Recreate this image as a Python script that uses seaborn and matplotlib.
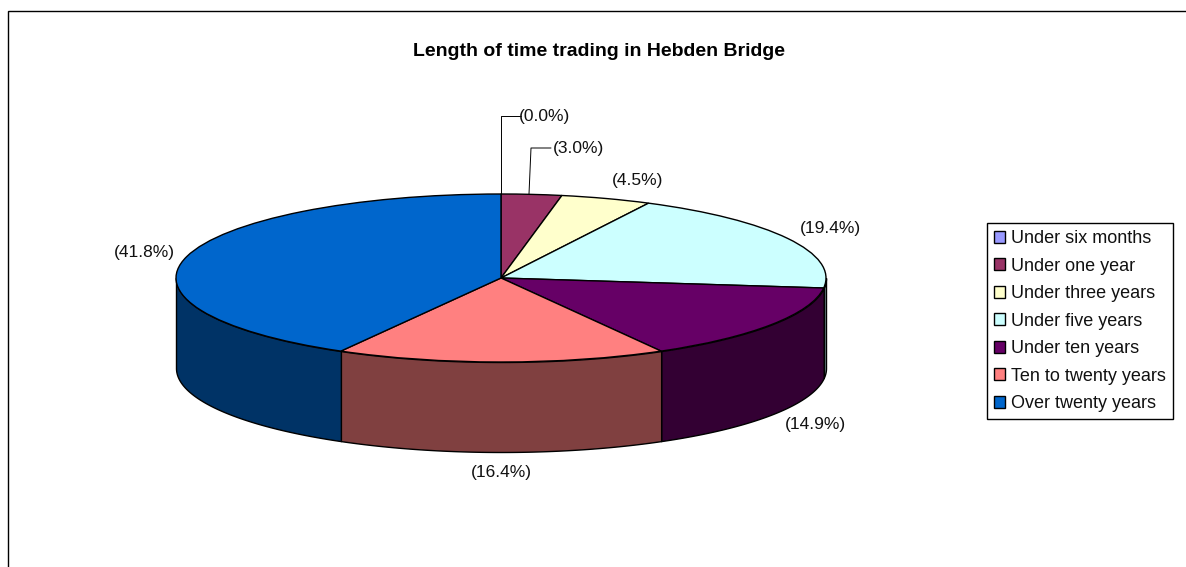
import numpy as np
import matplotlib
matplotlib.use("Agg")
import matplotlib.pyplot as plt
from matplotlib.patches import Rectangle
import seaborn as sns

# Chart data
categories = ["Under six months", "Under one year", "Under three years", "Under five years",
              "Under ten years", "Ten to twenty years", "Over twenty years"]
shares = [0.0, 3.0, 4.5, 19.4, 14.9, 16.4, 41.8]
top_colors = ["#9999FF", "#993366", "#FFFFCC", "#CCFFFF", "#660066", "#FF8080", "#0066CC"]
side_colors = ["#4D4D80", "#4D1A33", "#808066", "#668080", "#330033", "#804040", "#003366"]

W, H = 1186, 567
CX, CY = 501, 278      # pie centre, pixels
RX, RY = 325, 84       # ellipse radii, pixels
DEPTH = 90 / RY        # wall height in data units

sns.set_theme(style="white")
plt.rcParams["font.family"] = ["Liberation Sans", "DejaVu Sans"]


def px(x, y):
    # reference pixel position to data position
    return (x - CX) / RX, (CY - y) / RY


fig = plt.figure(figsize=(W / 100, H / 100), dpi=100)
ax = fig.add_axes([0, 0, 1, 1])

# Outer chart frame
fig.add_artist(Rectangle((7.5 / W, -0.05), (W + 20) / W, 1.05 - 10.5 / H, transform=fig.transFigure,
                         fill=False, edgecolor="black", linewidth=1.0))

# Side walls, only the front half of the disc shows
edges = np.cumsum([0] + shares) / sum(shares) * 360
for i, col in enumerate(side_colors):
    a0, a1 = max(edges[i], 90), min(edges[i + 1], 270)
    if a1 <= a0:
        continue
    a = np.radians(np.linspace(a0, a1, 200))
    ax.fill_between(np.sin(a), np.cos(a) - DEPTH, np.cos(a), facecolor=col, edgecolor="black",
                    linewidth=1.0, zorder=1)

# Top face
wedges, _ = ax.pie(shares, colors=sns.color_palette(top_colors), startangle=90, counterclock=False,
                   wedgeprops={"edgecolor": "black", "linewidth": 1.0, "zorder": 2})
ax.set_aspect("auto")
ax.set_xlim(*[px(v, 0)[0] for v in (0, W)])
ax.set_ylim(*[px(0, v)[1] for v in (H, 0)])
ax.axis("off")

# Data labels
label_pos = [(544, 116), (578, 148), (638, 181), (830, 229), (815, 425), (501, 472), (144, 253)]
for v, (lx, ly) in zip(shares, label_pos):
    ax.text(*px(lx, ly), f"({v:.1f}%)", ha="center", va="center", fontsize=12.5, color="#111111", zorder=5)

# Leader lines for the two thin slices
ax.plot(*zip(px(501, 194), px(501, 116), px(521, 116)), color="black", lw=0.7, zorder=4)
ax.plot(*zip(px(529, 194), px(531, 148), px(551, 148)), color="black", lw=0.7, zorder=4)

ax.text(*px(599, 52), "Length of time trading in Hebden Bridge", ha="center", va="center",
        fontsize=14, fontweight="bold", color="black")

leg = ax.legend(wedges, categories, loc="upper left", bbox_to_anchor=(987 / W, 1 - 223 / H),
                bbox_transform=fig.transFigure, frameon=True, fancybox=False, shadow=False,
                edgecolor="black", facecolor="white", framealpha=1, fontsize=13, labelspacing=0.58,
                handlelength=0.62, handleheight=0.62, handletextpad=0.3, borderpad=0.4, borderaxespad=0)
leg.get_frame().set_linewidth(1.0)
for t in leg.get_texts():
    t.set_color("#111111")

fig.savefig("out.png", dpi=100)
